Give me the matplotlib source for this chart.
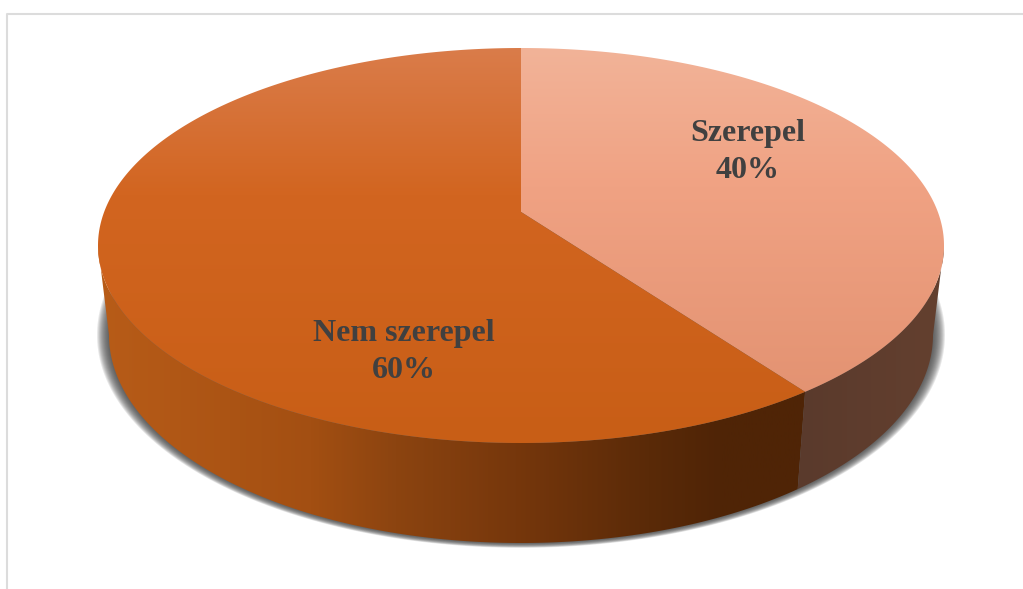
import numpy as np
import matplotlib
matplotlib.use('Agg')
import matplotlib.pyplot as plt
from matplotlib.patches import Polygon
from matplotlib.colors import LinearSegmentedColormap

labels = ['Szerepel', 'Nem szerepel']
shares = [40, 60]
top_colors = [
    [(0, '#f2b398'), (0.35, '#f0a283'), (1, '#e08f6e')],
    [(0, '#da7c4a'), (0.37, '#d26520'), (1, '#c85e16')],
]
wall_colors = [
    [(0, '#5a3a2c'), (1, '#64402f')],
    [(0, '#b85c18'), (0.3, '#a34f12'), (0.42, '#8c4410'), (0.59, '#76370c'),
     (0.78, '#5a2a08'), (0.88, '#4f2406'), (1, '#4f2406')],
]
label_pos = [(748, 152), (404, 352)]

W, H = 1023, 589
cx, cy, rx, ry = 521, 245.5, 423, 197.5
base_cy, base_rx, base_ry = 335, 412, 208
tilt = 0.17  # apex sits above the middle of the ellipse


def project(ang, ey=cy, ex=rx, eh=ry):
    # angle clockwise from top, true circle to tilted ellipse
    u, v = np.sin(ang), np.cos(ang)
    d = 1 + tilt * v
    x = u * np.sqrt(1 - tilt ** 2) / d
    y = (v + tilt) / d
    return cx + ex * x, ey - eh * y


def grad(ax, colors, extent, clip, horizontal=False, z=2):
    cm = LinearSegmentedColormap.from_list('g', colors)
    g = np.linspace(0, 1, 256)
    g = g[None, :] if horizontal else g[:, None]
    im = ax.imshow(g, cmap=cm, extent=extent, aspect='auto', zorder=z, origin='upper')
    clip.set_transform(ax.transData)
    im.set_clip_path(clip)


fig = plt.figure(figsize=(W / 100, H / 100), dpi=100)
ax = fig.add_axes([0, 0, 1, 1])

# frame of the chart area
ax.plot([7, 7, W], [H, 14, 14], color='#dcdcdc', lw=1.5, zorder=1)

# soft shadow below the pie
t = np.linspace(0, 2 * np.pi, 300)
for i in range(12):
    grow = 12 - i
    ax.fill(cx + (base_rx + grow) * np.cos(t), base_cy + (base_ry + grow * 0.4) * np.sin(t),
            color='#404040', alpha=0.12, lw=0, zorder=1.5)

ang = np.deg2rad(np.cumsum([0] + shares) * 3.6)
edge = np.arccos(-tilt)  # where the top ellipse is widest

# side wall, right part (first slice) and left part (second slice)
a_right = np.linspace(edge, ang[1], 100)
a_left = np.linspace(ang[1], 2 * np.pi - edge, 200)
for a, cols in [(a_left, wall_colors[1]), (a_right, wall_colors[0])]:
    x, y = project(a)
    bx, by = project(a, base_cy, base_rx, base_ry)
    pts = np.r_[np.c_[x, y], np.c_[bx[::-1], by[::-1]]]
    x0, x1 = pts[:, 0].min(), pts[:, 0].max()
    grad(ax, cols, [x0, x1, 600, 0], Polygon(pts), horizontal=True)

# top faces
apex = (cx, cy - ry * tilt)
for i in range(2):
    a = np.linspace(ang[i], ang[i + 1], 300)
    x, y = project(a)
    pts = np.r_[[apex], np.c_[x, y]]
    grad(ax, top_colors[i], [cx - rx, cx + rx, cy + ry, cy - ry], Polygon(pts), z=3)
    ax.text(*label_pos[i], f'{labels[i]}\n{shares[i]}%', ha='center', va='center',
            family='Liberation Serif', weight='bold', fontsize=23, color='#404040',
            linespacing=1.35, zorder=5)

ax.set_xlim(0, W)
ax.set_ylim(H, 0)
ax.axis('off')

fig.savefig('out.png', dpi=100)
